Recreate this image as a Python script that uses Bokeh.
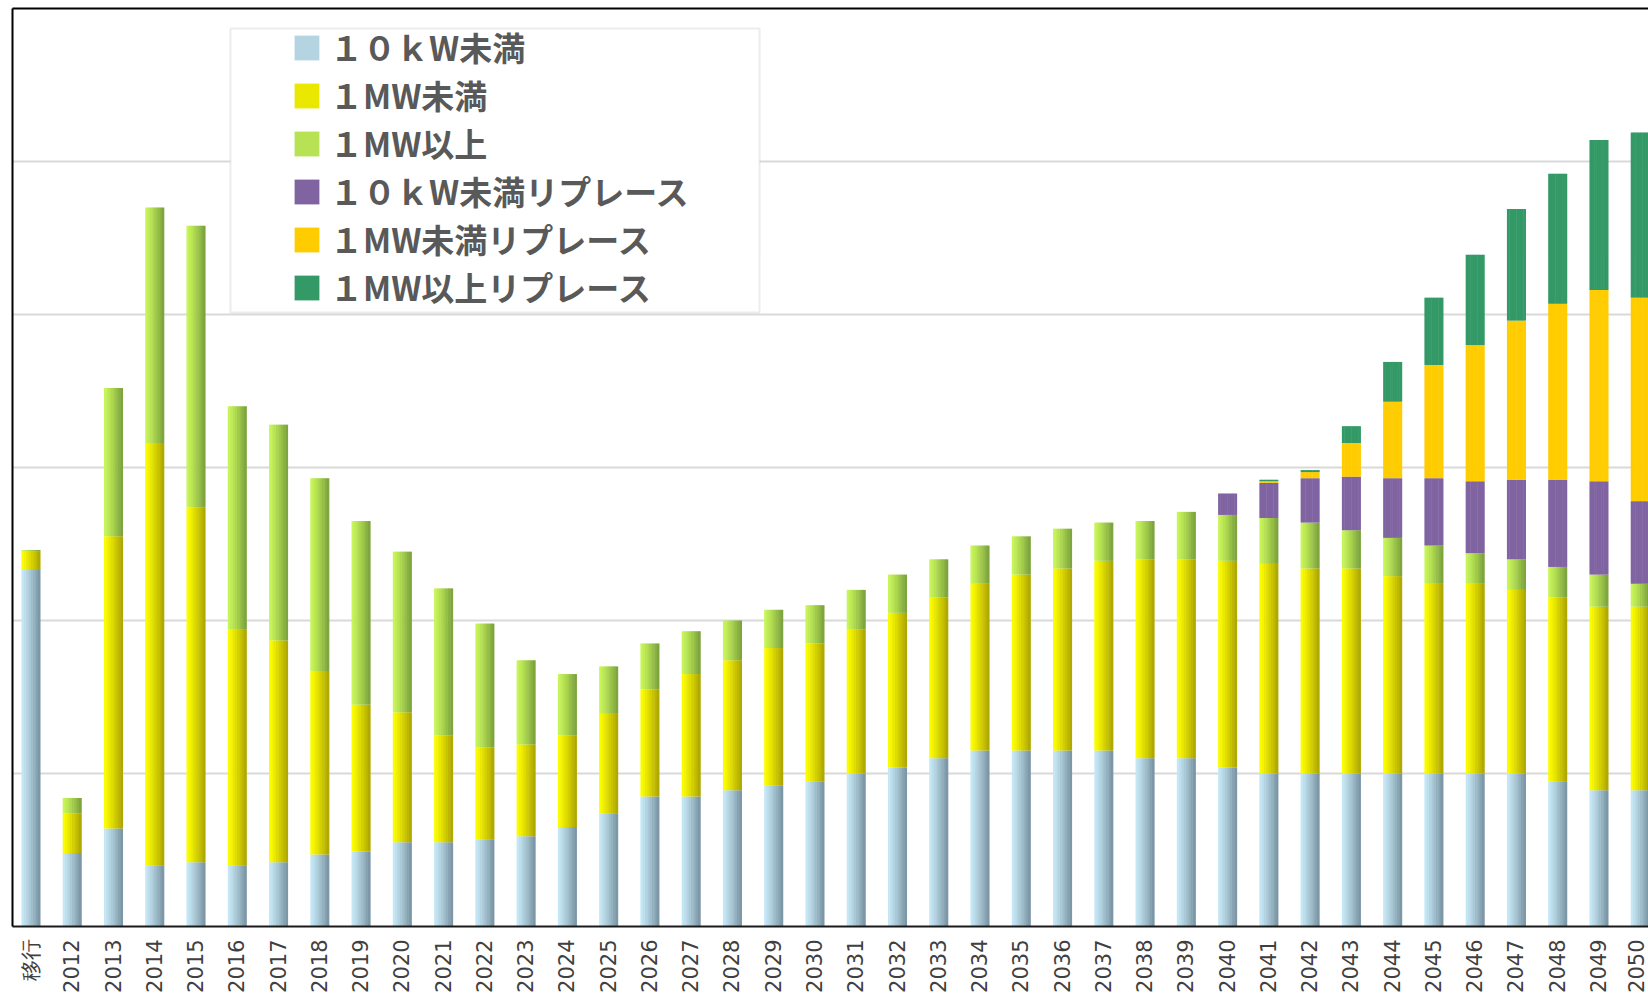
from math import pi
from bokeh.plotting import figure
from bokeh.models import (ColumnDataSource, Range1d, FixedTicker, LinearAxis,
                          Legend, LegendItem, BoxAnnotation)
from bokeh.transform import dodge
from bokeh.embed import file_html
from bokeh.resources import INLINE

# ---------------- data (units: one gridline step) ----------------
categories = ["移行", "2012", "2013", "2014", "2015", "2016", "2017", "2018", "2019", "2020",
              "2021", "2022", "2023", "2024", "2025", "2026", "2027", "2028", "2029", "2030",
              "2031", "2032", "2033", "2034", "2035", "2036", "2037", "2038", "2039", "2040",
              "2041", "2042", "2043", "2044", "2045", "2046", "2047", "2048", "2049", "2050"]

under_10kw = [2.33, 0.48, 0.64, 0.40, 0.42, 0.40, 0.42, 0.47, 0.49, 0.55,
              0.55, 0.57, 0.59, 0.65, 0.74, 0.85, 0.85, 0.89, 0.92, 0.95,
              1.00, 1.04, 1.10, 1.15, 1.15, 1.15, 1.15, 1.10, 1.10, 1.04,
              1.00, 1.00, 1.00, 1.00, 1.00, 1.00, 1.00, 0.95, 0.89, 0.89]
under_1mw = [0.12, 0.26, 1.91, 2.76, 2.32, 1.54, 1.45, 1.20, 0.96, 0.85,
             0.70, 0.60, 0.60, 0.60, 0.65, 0.70, 0.80, 0.85, 0.90, 0.90,
             0.94, 1.01, 1.05, 1.09, 1.15, 1.19, 1.24, 1.30, 1.30, 1.35,
             1.37, 1.34, 1.34, 1.29, 1.24, 1.24, 1.20, 1.20, 1.20, 1.20]
over_1mw = [0.01, 0.10, 0.97, 1.54, 1.84, 1.46, 1.41, 1.26, 1.20, 1.05,
            0.96, 0.81, 0.55, 0.40, 0.31, 0.30, 0.28, 0.26, 0.25, 0.25,
            0.26, 0.25, 0.25, 0.25, 0.25, 0.26, 0.25, 0.25, 0.31, 0.30,
            0.30, 0.30, 0.25, 0.25, 0.25, 0.20, 0.20, 0.20, 0.21, 0.15]
under_10kw_replace = [0, 0, 0, 0, 0, 0, 0, 0, 0, 0,
                      0, 0, 0, 0, 0, 0, 0, 0, 0, 0,
                      0, 0, 0, 0, 0, 0, 0, 0, 0, 0.14,
                      0.23, 0.29, 0.35, 0.39, 0.44, 0.47, 0.52, 0.57, 0.61, 0.54]
under_1mw_replace = [0, 0, 0, 0, 0, 0, 0, 0, 0, 0,
                     0, 0, 0, 0, 0, 0, 0, 0, 0, 0,
                     0, 0, 0, 0, 0, 0, 0, 0, 0, 0,
                     0.01, 0.04, 0.22, 0.50, 0.74, 0.89, 1.04, 1.15, 1.25, 1.33]
over_1mw_replace = [0, 0, 0, 0, 0, 0, 0, 0, 0, 0,
                    0, 0, 0, 0, 0, 0, 0, 0, 0, 0,
                    0, 0, 0, 0, 0, 0, 0, 0, 0, 0,
                    0.01, 0.013, 0.11, 0.26, 0.44, 0.59, 0.73, 0.85, 0.98, 1.08]

series_names = ["１０ｋW未満", "１MW未満", "１MW以上",
                "１０ｋW未満リプレース", "１MW未満リプレース", "１MW以上リプレース"]

# ---------------- styling ----------------
keys = ["s0", "s1", "s2", "s3", "s4", "s5"]
source = ColumnDataSource(dict(
    idx=list(range(len(categories))), cat=categories,
    s0=under_10kw, s1=under_1mw, s2=over_1mw,
    s3=under_10kw_replace, s4=under_1mw_replace, s5=over_1mw_replace))

gradient_ends = [((0xC8, 0xEA, 0xF8), (0x76, 0x90, 0x9F)),
                 ((0xFF, 0xFF, 0x00), (0xAA, 0xA2, 0x00)),
                 ((0xCA, 0xF8, 0x5A), (0x78, 0x9E, 0x3C))]
solid_colors = ["#8064A2", "#FFCC00", "#339966"]


def mix(c1, c2, t):
    return "#%02x%02x%02x" % tuple(int(round(a + (b - a) * t)) for a, b in zip(c1, c2))


p = figure(width=1648, height=995, output_backend="svg", toolbar_location=None,
           x_range=Range1d(-0.448, 39.2), y_range=Range1d(0, 6),
           min_border_left=12, min_border_right=0, min_border_top=8, min_border_bottom=69)
p.outline_line_color = None
p.background_fill_color = "white"
p.border_fill_color = "white"

# bottom axis with the category labels
xa = p.xaxis[0]
xa.ticker = FixedTicker(ticks=list(range(len(categories))))
xa.major_label_overrides = {i: c for i, c in enumerate(categories)}
xa.major_label_orientation = pi / 2
xa.major_label_text_font = "DejaVu Sans"
xa.major_label_text_font_size = "21px"
xa.major_label_text_color = "#404040"
xa.major_label_standoff = 7
xa.major_tick_line_color = None
xa.minor_tick_line_color = None
xa.axis_line_color = "#1a1a1a"
xa.axis_line_width = 2

ya = p.yaxis[0]
ya.ticker = FixedTicker(ticks=[])
ya.major_label_text_font_size = "0px"
ya.major_label_standoff = 0
ya.major_tick_line_color = None
ya.minor_tick_line_color = None
ya.axis_line_color = "black"
ya.axis_line_width = 2

top_axis = LinearAxis(ticker=FixedTicker(ticks=[]), major_label_text_font_size="0px",
                      major_label_standoff=0, major_tick_line_color=None,
                      minor_tick_line_color=None, axis_line_color="black", axis_line_width=2)
p.add_layout(top_axis, "above")

p.xgrid.visible = False
p.ygrid.ticker = FixedTicker(ticks=[1, 2, 3, 4, 5])
p.ygrid.grid_line_color = "#d9d9d9"
p.ygrid.grid_line_width = 2

BAR_W = 0.45
N = 8
legend_renderers = None
for k in range(N):
    off = -BAR_W / 2 + (k + 0.5) * BAR_W / N
    t = ((k + 0.5) / N) ** 1.2
    colors = [mix(a, b, t) for a, b in gradient_ends] + solid_colors
    rs = p.vbar_stack(keys, x=dodge("idx", off), width=BAR_W / N + 0.012,
                      fill_color=colors, line_color=None, source=source)
    if k == 2:
        legend_renderers = rs

box = BoxAnnotation(left=4.835, right=17.657, bottom=4.013, top=5.869,
                    fill_color="white", fill_alpha=1.0, line_color="#bfbfbf", line_width=2)
p.add_layout(box)

legend = Legend(items=[LegendItem(label=n, renderers=[r]) for n, r in zip(series_names, legend_renderers)],
                location=(279, 615), glyph_width=31, glyph_height=31, label_standoff=8,
                spacing=0, padding=0, margin=0, label_height=40,
                label_text_font="Noto Sans CJK JP", label_text_font_size="33px",
                label_text_font_style="bold", label_text_color="#595959",
                border_line_color=None, background_fill_alpha=0)
p.add_layout(legend, "center")

open("out.html", "w").write(file_html(p, INLINE))
